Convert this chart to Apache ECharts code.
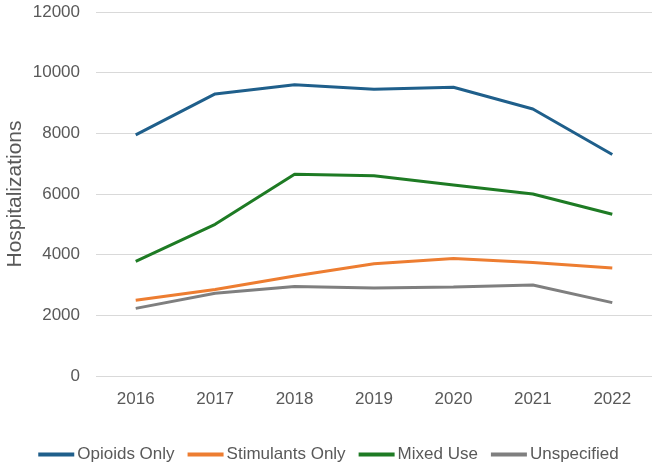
<!DOCTYPE html>
<html>
<head>
<meta charset="utf-8">
<script src="https://cdn.jsdelivr.net/npm/echarts@6/dist/echarts.min.js"></script>
<style>
  html, body { margin: 0; padding: 0; background: #fff; }
  #chart { width: 657px; height: 469px; }
</style>
</head>
<body>
<div id="chart"></div>
<script>
// categories and series values
const years = ['2016', '2017', '2018', '2019', '2020', '2021', '2022'];
const opioidsOnly = [7950, 9300, 9600, 9450, 9520, 8800, 7300];
const stimulantsOnly = [2500, 2850, 3300, 3700, 3870, 3740, 3560];
const mixedUse = [3780, 5000, 6650, 6600, 6300, 6000, 5330];
const unspecified = [2230, 2730, 2950, 2900, 2930, 3000, 2420];

const names = ['Opioids Only', 'Stimulants Only', 'Mixed Use', 'Unspecified'];
const values = [opioidsOnly, stimulantsOnly, mixedUse, unspecified];
const colors = ['#1f5f8b', '#ed7d31', '#1e7b24', '#7f7f7f'];

const chart = echarts.init(document.getElementById('chart'));
chart.setOption({
  animation: false,
  textStyle: { fontFamily: 'Liberation Sans, Arial, sans-serif' },
  grid: { left: 96, right: 5, top: 12, bottom: 93, outerBoundsMode: 'none', containLabel: false },
  legend: {
    bottom: 1,
    left: 'center',
    itemWidth: 36,
    itemHeight: 4,
    itemGap: 13,
    icon: 'rect',
    textStyle: { color: '#595959', fontSize: 17, padding: [0, 0, 0, -2] },
    data: names
  },
  xAxis: {
    type: 'category',
    data: years,
    boundaryGap: true,
    axisLine: { show: false },
    axisTick: { show: false },
    axisLabel: { color: '#595959', fontSize: 17, margin: 15 }
  },
  yAxis: {
    type: 'value',
    min: 0,
    max: 12000,
    interval: 2000,
    name: 'Hospitalizations',
    nameLocation: 'middle',
    nameGap: 70,
    nameMoveOverlap: false,
    nameTextStyle: { color: '#595959', fontSize: 21 },
    axisLine: { show: false },
    axisTick: { show: false },
    axisLabel: { color: '#595959', fontSize: 17, margin: 16, formatter: v => String(v) },
    splitLine: { lineStyle: { color: '#d9d9d9', width: 1 } }
  },
  series: names.map((n, i) => ({
    name: n,
    type: 'line',
    data: values[i],
    symbol: 'none',
    color: colors[i],
    lineStyle: { width: 3, color: colors[i] }
  }))
});
</script>
</body>
</html>
